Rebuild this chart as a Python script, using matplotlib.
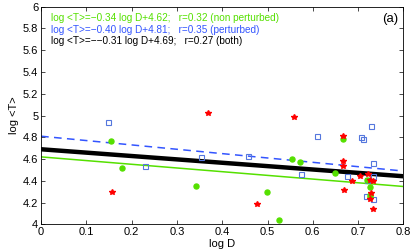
import numpy as np
import matplotlib
matplotlib.use("Agg")
import matplotlib.pyplot as plt

plt.rcParams["font.family"] = ["Liberation Sans", "DejaVu Sans"]

# data
green_x = [0.154, 0.179, 0.343, 0.499, 0.526, 0.555, 0.572, 0.649, 0.666, 0.719, 0.727, 0.726, 0.726]
green_y = [4.763, 4.52, 4.355, 4.297, 4.042, 4.597, 4.57, 4.469, 4.784, 4.407, 4.34, 4.254, 4.27]

blue_x = [0.147, 0.229, 0.354, 0.457, 0.574, 0.610, 0.706, 0.711, 0.729, 0.733, 0.675, 0.719, 0.732, 0.717, 0.733]
blue_y = [4.943, 4.533, 4.62, 4.63, 4.465, 4.814, 4.80, 4.78, 4.906, 4.566, 4.441, 4.407, 4.44, 4.26, 4.233]

red_x = [0.369, 0.559, 0.157, 0.476, 0.667, 0.667, 0.667, 0.669, 0.686, 0.705, 0.721, 0.726, 0.732, 0.728, 0.726, 0.732]
red_y = [5.02, 4.983, 4.294, 4.184, 4.815, 4.585, 4.539, 4.318, 4.398, 4.444, 4.465, 4.407, 4.398, 4.29, 4.233, 4.138]

# fits: slope, intercept
fit_green = (-0.34, 4.62)
fit_blue = (-0.40, 4.81)
fit_both = (-0.31, 4.69)

green = "#55e000"
blue = "#3355ff"
sq_blue = "#5577dd"

fig = plt.figure(figsize=(4.15, 2.49), dpi=100)
ax = fig.add_axes([0.099, 0.099, 0.873, 0.874])

xx = np.array([0, 0.8])
ax.plot(xx, fit_green[0] * xx + fit_green[1], color=green, lw=1.1)
ax.plot(xx, fit_blue[0] * xx + fit_blue[1], color=blue, lw=1.1, ls=(0, (5, 3.5)))
ax.plot(xx, fit_both[0] * xx + fit_both[1], color="black", lw=3.2)

ax.plot(blue_x, blue_y, "s", ms=3.6, mfc="none", mec=sq_blue, mew=0.8, ls="none")
ax.plot(green_x, green_y, "o", ms=3.6, color=green, mec=green, ls="none")
ax.plot(red_x, red_y, "*", ms=4.0, color="red", ls="none")

ax.set_xlim(0, 0.8)
ax.set_ylim(4, 6)
ax.set_xticks(np.arange(0, 0.81, 0.1))
ax.set_xticklabels(["0", "0.1", "0.2", "0.3", "0.4", "0.5", "0.6", "0.7", "0.8"])
ax.set_yticks(np.arange(4, 6.01, 0.2))
ax.set_yticklabels(["4", "4.2", "4.4", "4.6", "4.8", "5", "5.2", "5.4", "5.6", "5.8", "6"])
ax.tick_params(direction="in", top=True, right=True, labelsize=8, length=3, width=0.5, pad=2)
for s in ax.spines.values():
    s.set_linewidth(0.6)

ax.set_xlabel("log D", fontsize=8, labelpad=1)
ax.set_ylabel("log <T>", fontsize=8, labelpad=3)

fs = 7.2
ax.text(0.028, 0.947, "log <T>=\u22120.34 log D+4.62;   r=0.32 (non perturbed)",
        transform=ax.transAxes, color=green, fontsize=fs, va="center")
ax.text(0.028, 0.895, "log <T>=\u22120.40 log D+4.81;   r=0.35 (perturbed)",
        transform=ax.transAxes, color=blue, fontsize=fs, va="center")
ax.text(0.028, 0.844, "log <T>=\u2212\u22120.31 log D+4.69;   r=0.27 (both)",
        transform=ax.transAxes, color="black", fontsize=fs, va="center")
ax.text(0.985, 0.945, "(a)", transform=ax.transAxes, fontsize=9.5, ha="right", va="center")

fig.savefig("out.png", dpi=100)
